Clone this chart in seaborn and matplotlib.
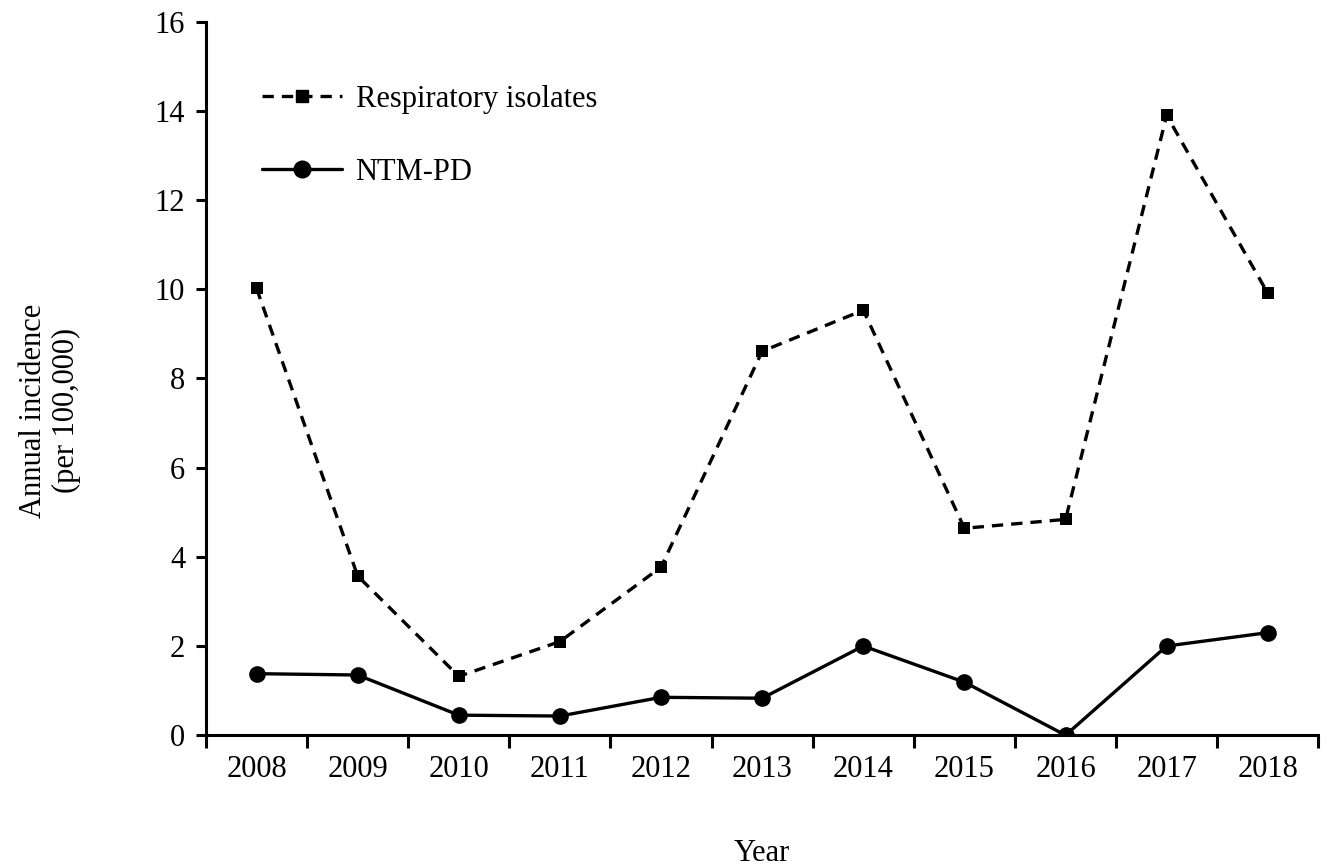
import numpy as np
import pandas as pd
import seaborn as sns
import matplotlib.pyplot as plt
from matplotlib.lines import Line2D

years = [2008, 2009, 2010, 2011, 2012, 2013, 2014, 2015, 2016, 2017, 2018]
respiratory = [10.02, 3.57, 1.32, 2.1, 3.77, 8.61, 9.53, 4.64, 4.84, 13.9, 9.91]
ntm_pd = [1.38, 1.35, 0.45, 0.43, 0.85, 0.83, 2.0, 1.19, 0.0, 2.0, 2.3]

sns.set_theme(style="ticks")
plt.rcParams['font.family'] = ['Liberation Serif', 'DejaVu Serif']
plt.rcParams['font.size'] = 22
plt.rcParams['text.color'] = 'black'
plt.rcParams['axes.labelcolor'] = 'black'

df = pd.DataFrame({'Year': years, 'resp': respiratory, 'ntm': ntm_pd})

fig = plt.figure(figsize=(13.29, 8.67), dpi=100)
ax = fig.add_axes([0.155, 0.152, 0.837, 0.823])

sns.lineplot(data=df, x='Year', y='resp', ax=ax, color='black', lw=2.4,
             marker='s', markersize=8.5, markeredgewidth=0)
ax.lines[-1].set_dashes((3.4, 2.4))
sns.lineplot(data=df, x='Year', y='ntm', ax=ax, color='black', lw=2.4,
             marker='o', markersize=12, markeredgewidth=0)

ax.set_xlim(years[0] - 0.5, years[-1] + 0.5)
ax.set_ylim(0, 16)
ax.set_yticks(range(0, 17, 2))
ax.set_xticks(years)
ax.set_xticklabels([str(y) for y in years])
ax.set_xticks(np.arange(years[0] - 0.5, years[-1] + 1, 1), minor=True)
ax.tick_params(axis='x', which='major', length=0, pad=14, labelsize=22, colors='black')
ax.tick_params(axis='x', which='minor', length=9, width=2.2, direction='out', color='black')
ax.tick_params(axis='y', length=7, width=2.2, labelsize=22, pad=8, colors='black')

for s in ['top', 'right']:
    ax.spines[s].set_visible(False)
for s in ['left', 'bottom']:
    ax.spines[s].set_linewidth(2.2)
    ax.spines[s].set_color('black')

ax.set_xlabel('Year', fontsize=22, labelpad=40, color='black')
ax.set_ylabel('Annual incidence\n(per 100,000)', fontsize=22, color='black')
ax.yaxis.set_label_coords(-0.112, 0.455)

handles = [
    Line2D([], [], color='black', lw=2.4, dashes=(3.4, 2.4), marker='s', markersize=8.5),
    Line2D([], [], color='black', lw=2.4, marker='o', markersize=12),
]
ax.legend(handles, ['Respiratory isolates', 'NTM-PD'], loc='upper left',
          bbox_to_anchor=(0.026, 0.95), frameon=False, fontsize=22,
          labelspacing=1.45, handlelength=2.6, handletextpad=0.45)

fig.savefig('out.png', dpi=100)
